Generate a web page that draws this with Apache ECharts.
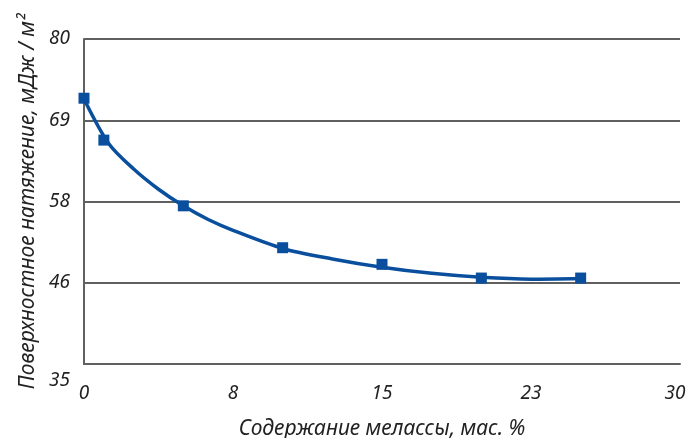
<!DOCTYPE html>
<html>
<head>
<meta charset="utf-8">
<script src="https://cdn.jsdelivr.net/npm/echarts@6/dist/echarts.min.js"></script>
<style>
    html, body { margin: 0; padding: 0; background: #fff; }
    #chart { width: 689px; height: 438px; }
</style>
</head>
<body>
<div id="chart"></div>
<script>
    // измеренные точки
    var molasses = [0, 1, 5, 10, 15, 20, 25];
    var tension = [71.8, 66.0, 56.9, 51.1, 48.8, 46.9, 46.9];
    // линия тренда
    var trendX = [0, 1.25, 2.5, 3.75, 5, 6.25, 7.5, 10, 12.5, 15, 17.5, 20, 22.5, 25];
    var trendY = [71.7, 65.5, 62.0, 59.2, 56.9, 55.0, 53.5, 51.0, 49.55, 48.4, 47.55, 47.0, 46.75, 46.85];

    var font = 'Noto Sans';
    var textColor = '#222';
    var gridColor = '#606060';
    var blue = '#0a4f9e';

    function pairs(xs, ys) {
        var out = [];
        for (let i = 0; i < xs.length; i++) {
            out.push([xs[i], ys[i]]);
        }
        return out;
    }

    var chart = echarts.init(document.getElementById('chart'));
    var option = {
        animation: false,
        grid: { left: 84, right: 9, top: 39, bottom: 74, outerBoundsMode: 'none', containLabel: false },
        xAxis: {
            type: 'value',
            min: 0,
            max: 30,
            interval: 7.5,
            name: 'Содержание мелассы, мас. %',
            nameLocation: 'middle',
            nameGap: 55,
            nameTextStyle: { fontFamily: font, fontStyle: 'italic', fontSize: 21, color: textColor },
            axisLine: { show: true, lineStyle: { color: gridColor, width: 2 } },
            axisTick: { show: false },
            splitLine: { show: false },
            axisLabel: {
                margin: 20,
                fontFamily: font, fontStyle: 'italic', fontSize: 19, color: textColor,
                formatter: function (v) {
                    if (v === 30) return '{end|30}';
                    return Math.round(v);
                },
                rich: {
                    end: { fontFamily: font, fontStyle: 'italic', fontSize: 19, color: textColor, padding: [0, 10, 0, 0] }
                }
            }
        },
        yAxis: {
            type: 'value',
            min: 35,
            max: 80,
            interval: 11.25,
            name: 'Поверхностное натяжение, мДж / м²',
            nameLocation: 'middle',
            nameGap: 45,
            nameTextStyle: { fontFamily: font, fontStyle: 'italic', fontSize: 21, color: textColor },
            axisLine: { show: true, lineStyle: { color: gridColor, width: 2 } },
            axisTick: { show: false },
            splitLine: { show: true, lineStyle: { color: gridColor, width: 2 } },
            axisLabel: {
                margin: 14,
                fontFamily: font, fontStyle: 'italic', fontSize: 19, color: textColor,
                formatter: function (v) {
                    if (v === 35) return '{low|35}';
                    return Math.round(v);
                },
                rich: {
                    low: { fontFamily: font, fontStyle: 'italic', fontSize: 19, color: textColor, padding: [34, 0, 0, 0] }
                }
            }
        },
        series: [
            {
                type: 'line',
                data: pairs(trendX, trendY),
                smooth: 0.3,
                showSymbol: false,
                lineStyle: { color: blue, width: 3.5 },
                z: 2
            },
            {
                type: 'scatter',
                data: pairs(molasses, tension),
                symbol: 'rect',
                symbolSize: 11,
                itemStyle: { color: blue, opacity: 1 },
                z: 3
            }
        ]
    };
    chart.setOption(option);
</script>
</body>
</html>
